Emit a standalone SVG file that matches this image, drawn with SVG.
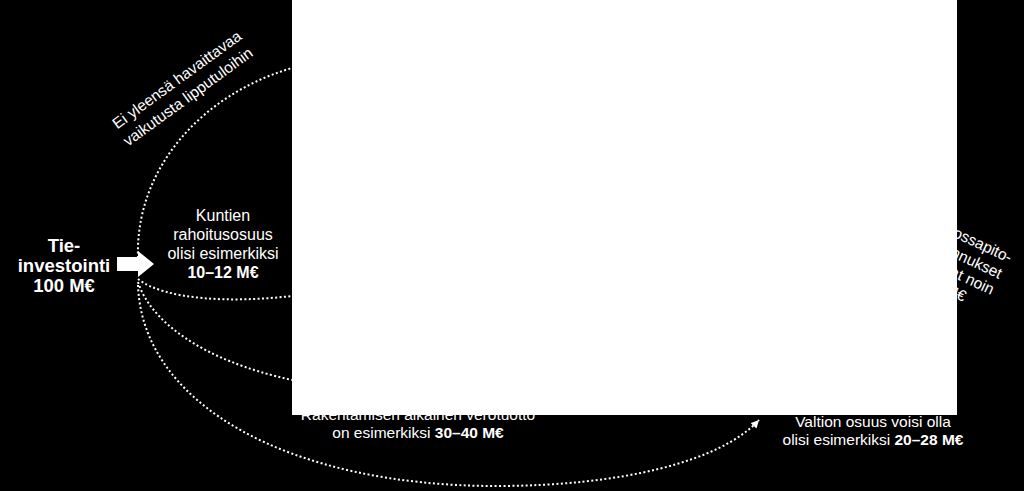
<svg xmlns="http://www.w3.org/2000/svg" width="1024" height="491" viewBox="0 0 1024 491">
<style>
.t{font-family:"Liberation Sans",Arial,sans-serif;fill:#fff;font-size:15.5px}
.c{text-anchor:middle}
.b{font-weight:bold}
.big{font-size:18.5px}
.dot{fill:none;stroke:#fff;stroke-width:2;stroke-dasharray:2 2.4}
</style>
<defs>
<marker id="ah" markerUnits="userSpaceOnUse" markerWidth="10" markerHeight="10" refX="8" refY="4" orient="auto">
<path d="M0,0 L8,4 L0,8 Z" fill="#fff"/>
</marker>
</defs>
<rect width="1024" height="491" fill="#000"/>
<g id="connectors">
<path class="dot" d="M138,258 C135,170 200,95 292,68"/>
<path class="dot" d="M138,279 C165,300 230,303 292,296"/>
<path class="dot" d="M138,282 C150,320 200,360 292,380"/>
<path class="dot" d="M138,285 C142,405 290,486 496,486 C620,486 720,462 759,420" marker-end="url(#ah)"/>
</g>
<g id="investment">
<text class="t c b big" x="64" y="252">Tie-</text>
<text class="t c b big" x="64" y="272">investointi</text>
<text class="t c b big" x="64" y="292">100 M€</text>
<polygon points="117,257 138,257 138,251 154,264 138,277 138,271 117,271" fill="#fff"/>
</g>
<g id="tickets">
<text class="t c" transform="translate(180,84) rotate(-36)">Ei yleensä havaittavaa</text>
<text class="t c" transform="translate(191,101) rotate(-36)">vaikutusta lipputuloihin</text>
</g>
<g id="municipal">
<text class="t c" style="font-size:16px" x="223" y="221">Kuntien</text>
<text class="t c" style="font-size:16px" x="223" y="240">rahoitusosuus</text>
<text class="t c" style="font-size:16px" x="223" y="259">olisi esimerkiksi</text>
<text class="t c b" style="font-size:16px" x="223" y="278">10–12 M€</text>
</g>
<g id="construction">
<text class="t c" x="418" y="420">Rakentamisen aikainen verotuotto</text>
<text class="t c" x="418" y="438">on esimerkiksi <tspan class="b">30–40 M€</tspan></text>
</g>
<g id="maintenance">
<text class="t" style="text-anchor:end" transform="translate(1009,263) rotate(25)">Kunnossapito-</text>
<text class="t" style="text-anchor:end" transform="translate(999,279) rotate(25)">kustannukset</text>
<text class="t" style="text-anchor:end" transform="translate(991,295) rotate(25)">ovat noin</text>
<text class="t" style="text-anchor:end" transform="translate(963,302) rotate(25)">M€</text>
</g>
<g id="state">
<text class="t c" x="873" y="427">Valtion osuus voisi olla</text>
<text class="t c" x="873" y="445">olisi esimerkiksi <tspan class="b">20–28 M€</tspan></text>
</g>
<rect id="overlay" x="292" y="0" width="665" height="415" fill="#fff"/>
</svg>
